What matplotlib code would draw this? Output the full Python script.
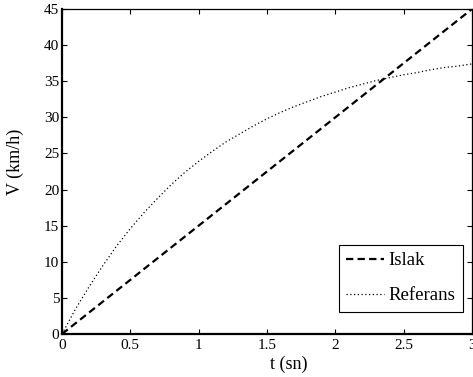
import matplotlib
matplotlib.use("Agg")
import matplotlib.pyplot as plt

# Data
t_islak = [0.0, 0.5, 1.0, 1.5, 2.0, 2.5, 3.0]
v_islak = [0.0, 7.5, 15.0, 22.5, 30.0, 37.5, 45.0]

t_ref = [0.0, 0.1, 0.2, 0.3, 0.4, 0.5, 0.6, 0.7, 0.8, 0.9, 1.0,
         1.1, 1.2, 1.3, 1.4, 1.5, 1.6, 1.7, 1.8, 1.9, 2.0,
         2.1, 2.2, 2.3, 2.4, 2.5, 2.6, 2.7, 2.8, 2.9, 3.0]
v_ref = [0.0, 3.5, 6.6, 9.5, 12.2, 14.6, 16.8, 18.8, 20.7, 22.4, 23.9,
         25.3, 26.6, 27.7, 28.8, 29.8, 30.7, 31.5, 32.2, 32.9, 33.5,
         34.1, 34.6, 35.1, 35.5, 35.9, 36.2, 36.6, 36.9, 37.1, 37.4]

x_ticks = [0, 0.5, 1, 1.5, 2, 2.5, 3]
x_tick_labels = ["0", "0.5", "1", "1.5", "2", "2.5", "3"]
y_ticks = [0, 5, 10, 15, 20, 25, 30, 35, 40, 45]
y_tick_labels = [str(v) for v in y_ticks]

plt.rcParams['font.family'] = ['Liberation Serif', 'DejaVu Serif']

fig = plt.figure(figsize=(4.73, 3.77), dpi=100)
ax = fig.add_axes([62/473, 1 - 334/377, 410/473, 325/377])

ax.plot(t_islak, v_islak, color='black', lw=1.6, linestyle=(0, (3.3, 1.9)), label='Islak')
ax.plot(t_ref, v_ref, color='black', lw=0.9, linestyle=(0, (1, 2.0)), label='Referans')

ax.set_xlim(0, 3)
ax.set_ylim(0, 45)
ax.set_xticks(x_ticks)
ax.set_xticklabels(x_tick_labels)
ax.set_yticks(y_ticks)
ax.set_yticklabels(y_tick_labels)
ax.tick_params(direction='in', top=True, right=True, length=3.5, width=0.8,
               labelsize=11, colors='black')
ax.tick_params(axis='x', pad=3.5)
ax.tick_params(axis='y', pad=2)
for s in ['left', 'bottom']:
    ax.spines[s].set_linewidth(1.6)
for s in ['top', 'right']:
    ax.spines[s].set_linewidth(0.9)

ax.set_xlabel('t (sn)', fontsize=13)
ax.xaxis.set_label_coords(0.554, -0.068)
ax.set_ylabel('V (km/h)', fontsize=13)
ax.yaxis.set_label_coords(-0.092, 0.529)

leg = ax.legend(loc='lower right', bbox_to_anchor=(0.978, 0.068), borderaxespad=0,
                fontsize=13.5, fancybox=False, framealpha=1, edgecolor='black',
                handlelength=2.0, handletextpad=0.25, borderpad=0.4, labelspacing=0.95)
leg.get_frame().set_linewidth(0.8)

fig.savefig('out.png', dpi=100)
